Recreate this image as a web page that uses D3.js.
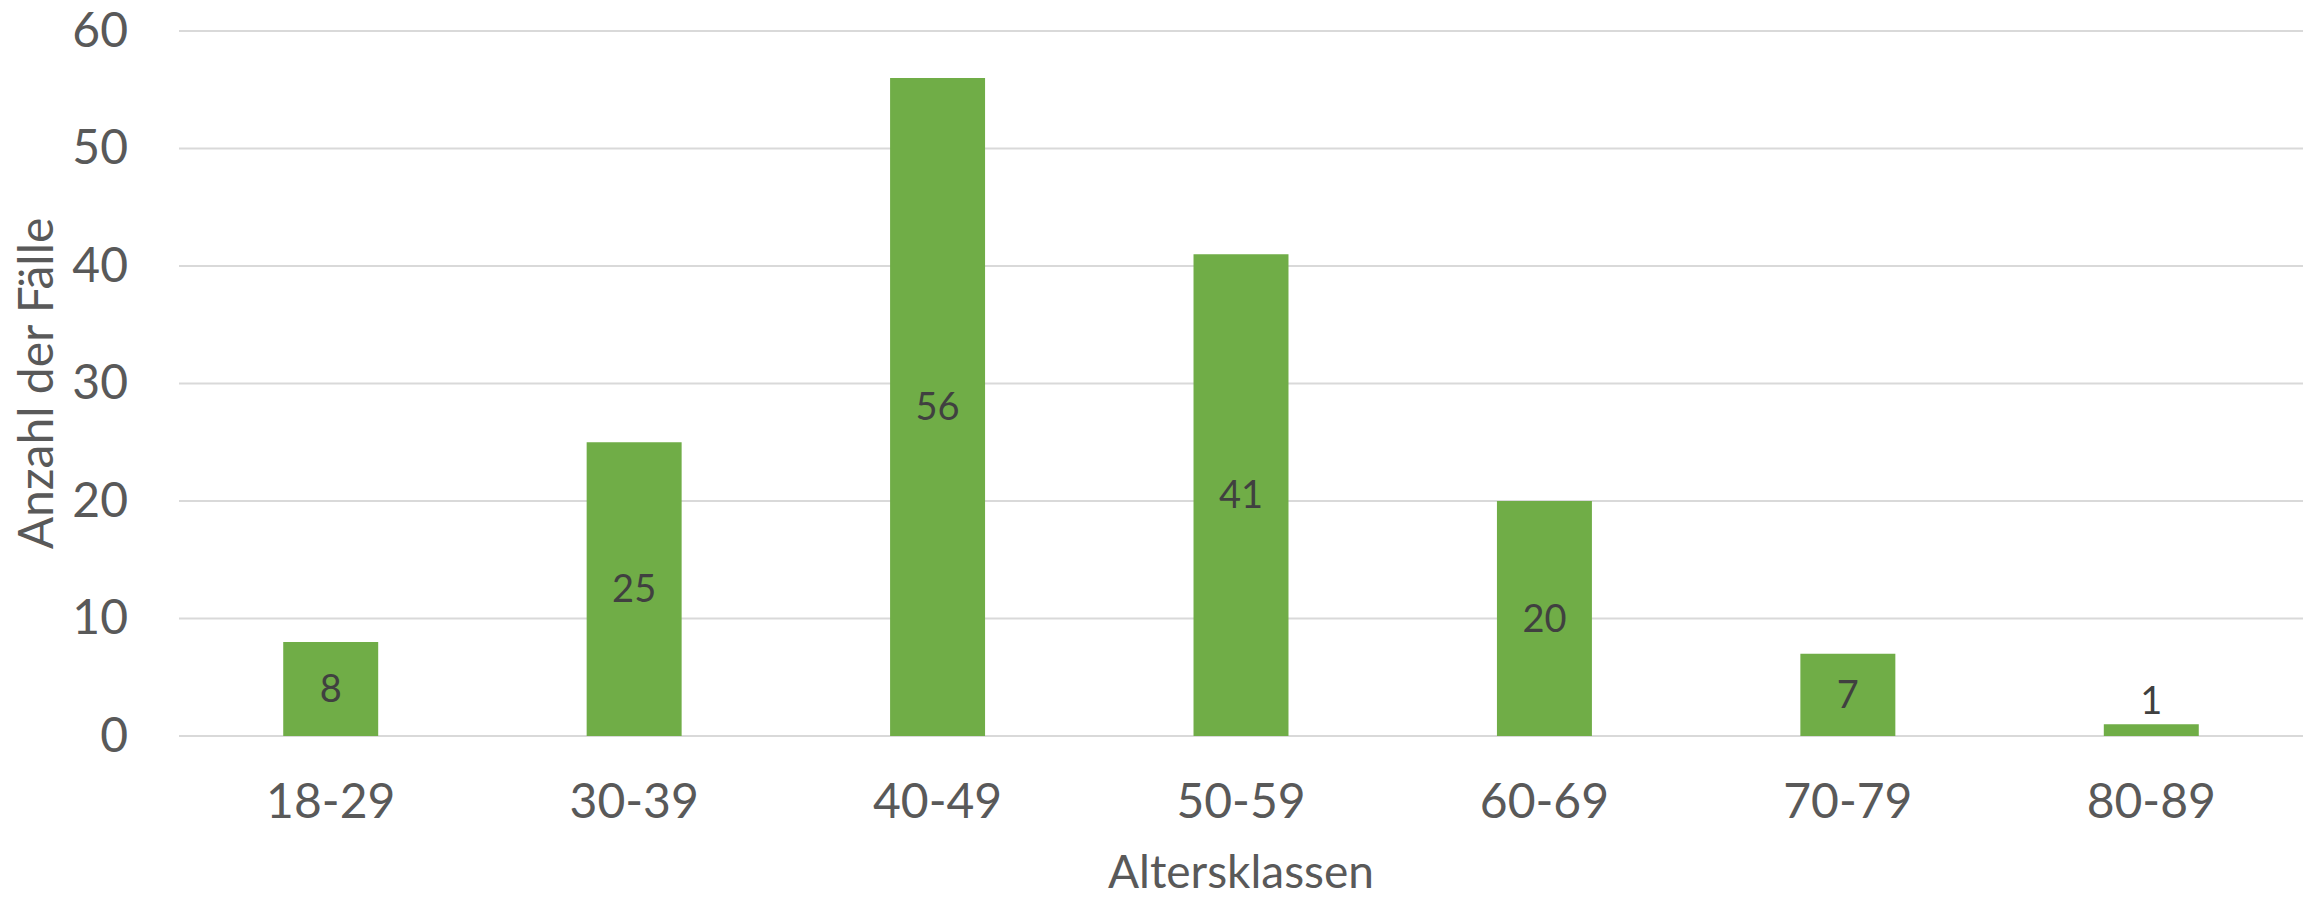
<!DOCTYPE html>
<html>
<head>
<meta charset="utf-8">
<script src="https://cdn.jsdelivr.net/npm/d3@7"></script>
<style>
  body { margin: 0; background: #fff; }
  text { font-family: Lato, "Open Sans", sans-serif; }
</style>
</head>
<body>
<div id="chart"></div>
<script>
// Data
const categories = ["18-29", "30-39", "40-49", "50-59", "60-69", "70-79", "80-89"];
const counts = [8, 25, 56, 41, 20, 7, 1];
const yTicks = [0, 10, 20, 30, 40, 50, 60];

const width = 2303;
const height = 899;
const margin = { top: 31, right: 0, bottom: 163, left: 179 };

const svg = d3.select("#chart").append("svg")
    .attr("width", width)
    .attr("height", height);

const x = d3.scaleBand()
    .domain(categories)
    .range([margin.left, width - margin.right])
    .paddingInner(0.687)
    .paddingOuter(0.3435);

const y = d3.scaleLinear()
    .domain([0, 60])
    .range([height - margin.bottom, margin.top]);

// gridlines
svg.append("g")
    .selectAll("line")
    .data(yTicks)
    .enter().append("line")
    .attr("x1", margin.left)
    .attr("x2", width - margin.right)
    .attr("y1", d => y(d))
    .attr("y2", d => y(d))
    .style("stroke", "#d9d9d9")
    .style("stroke-width", 2);

// y axis labels
const yAxis = d3.axisLeft(y).tickValues(yTicks).tickSize(0).tickPadding(51);
svg.append("g")
    .attr("transform", `translate(${margin.left},0)`)
    .call(yAxis)
    .call(g => g.select(".domain").remove())
    .selectAll("text")
    .style("font-size", "48px")
    .style("fill", "#595959")
    .style("font-family", "Lato, 'Open Sans', sans-serif");

// x axis labels
const xAxis = d3.axisBottom(x).tickSize(0).tickPadding(48);
svg.append("g")
    .attr("transform", `translate(0,${y(0)})`)
    .call(xAxis)
    .call(g => g.select(".domain").remove())
    .selectAll("text")
    .style("font-size", "48px")
    .style("fill", "#595959")
    .style("font-family", "Lato, 'Open Sans', sans-serif");

// bars
svg.append("g")
    .selectAll("rect")
    .data(counts)
    .enter().append("rect")
    .attr("x", (d, i) => x(categories[i]))
    .attr("width", x.bandwidth())
    .attr("y", d => y(d))
    .attr("height", d => y(0) - y(d))
    .style("fill", "#70ad47");

// data labels: centred in bar, above if the bar is too short
svg.append("g")
    .selectAll("text")
    .data(counts)
    .enter().append("text")
    .attr("x", (d, i) => x(categories[i]) + x.bandwidth() / 2)
    .attr("y", d => (y(0) - y(d)) > 45 ? (y(d) + y(0)) / 2 : y(d) - 24)
    .attr("dy", "0.35em")
    .style("text-anchor", "middle")
    .style("font-size", "38px")
    .style("fill", "#404040")
    .text(d => d);

// axis titles
svg.append("text")
    .attr("x", (margin.left + width - margin.right) / 2)
    .attr("y", 888)
    .style("text-anchor", "middle")
    .style("font-size", "46px")
    .style("fill", "#595959")
    .text("Altersklassen");

svg.append("text")
    .attr("transform", `translate(53,${(margin.top + y(0)) / 2}) rotate(-90)`)
    .style("text-anchor", "middle")
    .style("font-size", "48px")
    .style("fill", "#595959")
    .text("Anzahl der Fälle");
</script>
</body>
</html>
